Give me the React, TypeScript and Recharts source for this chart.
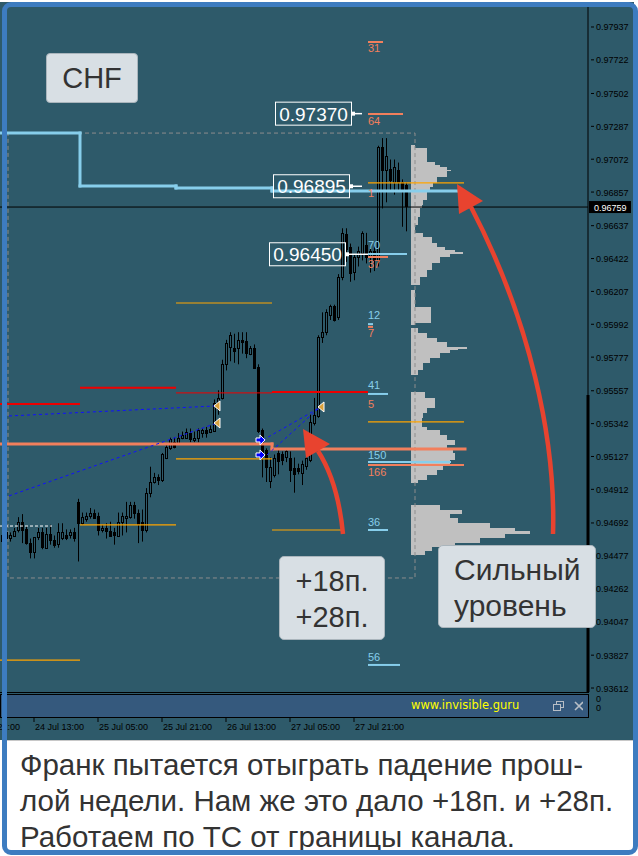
import React from "react";
import { ComposedChart, Bar, XAxis, YAxis, ReferenceLine, ReferenceArea, ReferenceDot } from "recharts";

const BG = "#2e5a6a";
const SKY = "#87ceeb";
const CORAL = "#f27f5c";
const ORANGE = "#ffa500";
const RED = "#ee0000";
const FONT = "'Liberation Sans', Arial, sans-serif";

// hourly candles, bar 0 = 24 Jul 05:00
const OPEN = [
  0.9461, 0.9463, 0.9459, 0.9461, 0.9465, 0.9470, 0.9465, 0.9456, 0.9450, 0.9460,
  0.9463, 0.9453, 0.9462, 0.9458, 0.9455, 0.9459, 0.9461, 0.9461, 0.9463, 0.9483,
  0.9469, 0.9472, 0.9474, 0.9476, 0.9474, 0.9465, 0.9466, 0.9464, 0.9463, 0.9461,
  0.9470, 0.9473, 0.9473, 0.9481, 0.9476, 0.9470, 0.9465, 0.9489, 0.9496, 0.9499,
  0.9497, 0.9512, 0.9518, 0.9522, 0.9522, 0.9525, 0.9525, 0.9528, 0.9524, 0.9525,
  0.9528, 0.9530, 0.9529, 0.9530, 0.9544, 0.9551, 0.9573, 0.9584, 0.9584, 0.9584,
  0.9589, 0.9588, 0.9580, 0.9584, 0.9571, 0.9530, 0.9517, 0.9497, 0.9501, 0.9515,
  0.9514, 0.9512, 0.9512, 0.9505, 0.9505, 0.9502, 0.9507, 0.9510, 0.9535, 0.9539,
  0.9591, 0.9594, 0.9605, 0.9611, 0.9604, 0.9630, 0.9658, 0.9650, 0.9633, 0.9643,
  0.9646, 0.9651, 0.9643, 0.9647, 0.9641, 0.9715, 0.9700, 0.9701, 0.9692, 0.9700,
  0.9692, 0.9690,
];
const HIGH = [
  0.9465, 0.9466, 0.9463, 0.9466, 0.9473, 0.9475, 0.9467, 0.9459, 0.9460, 0.9466,
  0.9466, 0.9466, 0.9468, 0.9461, 0.9469, 0.9469, 0.9465, 0.9465, 0.9466, 0.9485,
  0.9476, 0.9476, 0.9479, 0.9478, 0.9476, 0.9468, 0.9469, 0.9470, 0.9466, 0.9476,
  0.9476, 0.9483, 0.9483, 0.9483, 0.9478, 0.9478, 0.9492, 0.9506, 0.9502, 0.9501,
  0.9515, 0.9521, 0.9525, 0.9525, 0.9528, 0.9529, 0.9531, 0.9531, 0.9529, 0.9531,
  0.9531, 0.9532, 0.9533, 0.9550, 0.9556, 0.9576, 0.9589, 0.9594, 0.9593, 0.9594,
  0.9594, 0.9594, 0.9585, 0.9586, 0.9573, 0.9531, 0.9518, 0.9512, 0.9514, 0.9517,
  0.9516, 0.9517, 0.9516, 0.9512, 0.9508, 0.9510, 0.9514, 0.9540, 0.9551, 0.9592,
  0.9607, 0.9609, 0.9612, 0.9612, 0.9632, 0.9662, 0.9662, 0.9652, 0.9645, 0.9650,
  0.9660, 0.9659, 0.9650, 0.9650, 0.9716, 0.9721, 0.9721, 0.9707, 0.9707, 0.9705,
  0.9694, 0.9692,
];
const LOW = [
  0.9455, 0.9458, 0.9457, 0.9460, 0.9463, 0.9456, 0.9455, 0.9446, 0.9446, 0.9458,
  0.9452, 0.9453, 0.9455, 0.9453, 0.9453, 0.9458, 0.9458, 0.9459, 0.9457, 0.9444,
  0.9468, 0.9470, 0.9472, 0.9472, 0.9461, 0.9463, 0.9459, 0.9461, 0.9455, 0.9460,
  0.9461, 0.9463, 0.9472, 0.9472, 0.9456, 0.9457, 0.9463, 0.9486, 0.9495, 0.9494,
  0.9496, 0.9511, 0.9517, 0.9518, 0.9521, 0.9524, 0.9525, 0.9522, 0.9522, 0.9522,
  0.9525, 0.9525, 0.9528, 0.9529, 0.9540, 0.9550, 0.9569, 0.9575, 0.9574, 0.9573,
  0.9580, 0.9577, 0.9579, 0.9571, 0.9528, 0.9499, 0.9496, 0.9492, 0.9499, 0.9501,
  0.9507, 0.9509, 0.9496, 0.9489, 0.9501, 0.9494, 0.9504, 0.9509, 0.9533, 0.9538,
  0.9587, 0.9592, 0.9602, 0.9601, 0.9602, 0.9628, 0.9640, 0.9627, 0.9628, 0.9637,
  0.9641, 0.9639, 0.9633, 0.9634, 0.9637, 0.9675, 0.9679, 0.9687, 0.9684, 0.9687,
  0.9663, 0.9660,
];
const CLOSE = [
  0.9457, 0.9459, 0.9461, 0.9464, 0.9470, 0.9465, 0.9456, 0.9450, 0.9460, 0.9463,
  0.9453, 0.9462, 0.9458, 0.9455, 0.9463, 0.9463, 0.9459, 0.9463, 0.9459, 0.9469,
  0.9473, 0.9474, 0.9476, 0.9473, 0.9465, 0.9466, 0.9464, 0.9461, 0.9461, 0.9470,
  0.9474, 0.9474, 0.9481, 0.9476, 0.9469, 0.9465, 0.9489, 0.9496, 0.9499, 0.9497,
  0.9514, 0.9519, 0.9524, 0.9519, 0.9525, 0.9527, 0.9529, 0.9524, 0.9525, 0.9530,
  0.9530, 0.9528, 0.9531, 0.9548, 0.9551, 0.9573, 0.9587, 0.9592, 0.9582, 0.9589,
  0.9588, 0.9580, 0.9584, 0.9571, 0.9529, 0.9515, 0.9506, 0.9506, 0.9512, 0.9510,
  0.9510, 0.9516, 0.9504, 0.9501, 0.9503, 0.9508, 0.9512, 0.9535, 0.9540, 0.9591,
  0.9594, 0.9607, 0.9611, 0.9602, 0.9630, 0.9659, 0.9648, 0.9633, 0.9643, 0.9647,
  0.9659, 0.9643, 0.9647, 0.9641, 0.9715, 0.9700, 0.9709, 0.9694, 0.9702, 0.9692,
  0.9687, 0.9676,
];

const PRICE_TICKS = [
  0.97937, 0.97722, 0.97502, 0.97287, 0.97072, 0.96857, 0.96637, 0.96422, 0.96207, 0.95992, 0.95777,
  0.95557, 0.95342, 0.95127, 0.94912, 0.94692, 0.94477, 0.94262, 0.94047, 0.93827, 0.93612,
];
const TIME_TICK_BARS = [-8, 8, 24, 40, 56, 72, 88];
const TIME_TICK_LABELS = ["21 Jul 21:00", "24 Jul 13:00", "25 Jul 05:00", "25 Jul 21:00", "26 Jul 13:00", "27 Jul 05:00", "27 Jul 21:00"];
const LAST_PRICE = 0.96759;

// daily levels: [fromBar, toBar, price]
const ORANGE_LEVELS = [
  [-0.5, 19.5, 0.93795], [19.5, 43.5, 0.94679], [43.5, 67.5, 0.96131], [43.5, 67.5, 0.95111],
  [67.5, 85.5, 0.94646], [91.5, 115.5, 0.96917], [91.5, 115.5, 0.95353],
];
const RED_LEVELS = [[-0.5, 19.5, 0.95471], [19.5, 43.5, 0.95577], [67.5, 91.5, 0.95549]];
const RED_THIN_LEVELS = [[43.5, 67.5, 0.95543]];
const WHITE_DASH_LEVELS = [[-0.5, 12.5, 0.94672]];

const SKY_STEP_BARS = [-0.5, 19.5, 19.5, 43.5, 43.5, 67.5, 67.5, 113.75];
const SKY_STEP_PRICES = [0.97243, 0.97243, 0.96897, 0.96897, 0.96884, 0.96884, 0.96864, 0.96864];
const CORAL_STEP_BARS = [-0.5, 67.5, 67.5, 115.75];
const CORAL_STEP_PRICES = [0.95209, 0.95209, 0.95176, 0.95176];

// short tagged levels next to the profile
const SKY_SHORT = [
  [91.5, 101.25, 0.96452], [91.5, 92.75, 0.95993], [91.5, 96.5, 0.95536],
  [91.5, 112.25, 0.95091], [91.5, 96.5, 0.94646], [91.5, 99.5, 0.93763],
];
const CORAL_SHORT = [
  [91.5, 95.25, 0.97839], [91.5, 100.25, 0.97368], [91.5, 96.5, 0.96432],
  [91.5, 92.75, 0.95975], [91.5, 115.5, 0.95072],
];
const SKY_TAG_TEXT = ["70", "12", "41", "150", "36", "56"];
const SKY_TAG_PRICE = [0.96511, 0.96053, 0.95595, 0.95137, 0.94699, 0.93815];
const CORAL_TAG_TEXT = ["31", "64", "1", "37", "7", "5", "166"];
const CORAL_TAG_PRICE = [0.978, 0.97322, 0.96851, 0.96387, 0.95935, 0.95471, 0.95026];

const BOX_LABELS = ["0.97370", "0.96895", "0.96450"];
const BOX_PRICES = [0.9737, 0.96895, 0.9645];
const BOX_BARS = [87.5, 87, 86];
const BOX_LINK_END = [90, 90, 91.5];

// channel dashes: [fromBar, fromPrice, toBar, toPrice]
const BLUE_DASHES = [
  [1.75, 0.95392, 53.75, 0.95458], [1.75, 0.94869, 53.75, 0.95346],
  [65.25, 0.95235, 79.25, 0.95444], [66.25, 0.95137, 79.25, 0.95444],
];
const GOLD_MARK_BARS = [53.75, 53.75, 79.75];
const GOLD_MARK_PRICES = [0.95458, 0.95346, 0.95451];
const BLUE_MARK_BARS = [64.75, 64.75];
const BLUE_MARK_PRICES = [0.95235, 0.95137];

// volume profile rows
const PROFILE_HI = [
  0.97165, 0.97146, 0.97054, 0.97034, 0.97021, 0.97002, 0.96995, 0.96956, 0.96917, 0.9689,
  0.96858, 0.96805, 0.96773, 0.96753, 0.96694, 0.96642, 0.9659, 0.96563, 0.96524, 0.96498,
  0.96478, 0.96465, 0.96452, 0.96432, 0.96393, 0.96347, 0.96302, 0.96217, 0.96105, 0.96001,
  0.95968, 0.95935, 0.95903, 0.95876, 0.95844, 0.95831, 0.95824, 0.95804, 0.95772, 0.95739,
  0.95693, 0.95549, 0.9551, 0.95445, 0.95412, 0.95379, 0.9532, 0.95301, 0.95268, 0.95235,
  0.95202, 0.9517, 0.9515, 0.95104, 0.95072, 0.95039, 0.95006, 0.94973, 0.9481, 0.94777,
  0.94751, 0.94725, 0.94692, 0.94659, 0.9464, 0.9462, 0.94594, 0.94561, 0.94535, 0.94509,
];
const PROFILE_LO = [
  0.97146, 0.97054, 0.97034, 0.97021, 0.97002, 0.96995, 0.96956, 0.96917, 0.9689, 0.96858,
  0.96805, 0.96773, 0.96753, 0.96694, 0.96642, 0.9659, 0.96563, 0.96524, 0.96498, 0.96478,
  0.96465, 0.96452, 0.96432, 0.96393, 0.96347, 0.96302, 0.96249, 0.96105, 0.96001, 0.95988,
  0.95935, 0.95903, 0.95876, 0.95844, 0.95831, 0.95824, 0.95804, 0.95772, 0.95739, 0.95693,
  0.9566, 0.9551, 0.95445, 0.95412, 0.95379, 0.9532, 0.95301, 0.95268, 0.95235, 0.95202,
  0.9517, 0.9515, 0.95104, 0.95072, 0.95039, 0.95006, 0.94973, 0.94954, 0.94777, 0.94751,
  0.94725, 0.94692, 0.94659, 0.9464, 0.9462, 0.94594, 0.94561, 0.94535, 0.94509, 0.94483,
];
const PROFILE_VOL = [
  4, 16, 24, 29, 36, 40, 36, 26, 22, 19,
  16, 12, 11, 9, 7, 4, 12, 21, 26, 34,
  44, 52, 39, 29, 21, 16, 9, 4, 20, 4,
  7, 16, 26, 36, 56, 47, 39, 29, 19, 12,
  7, 14, 24, 16, 12, 11, 16, 29, 36, 44,
  36, 42, 44, 39, 32, 26, 16, 7, 29, 51,
  39, 47, 79, 104, 119, 94, 69, 44, 21, 14,
];
const PROFILE_BASE = 102.25;
const PROFILE_SCALE = 0.25;
const PROFILE_BOX = { x1: 1.5, x2: 103.25, y1: 0.94332, y2: 0.97243 };

const candles = OPEN.map((open, i) => ({
  i,
  open,
  high: HIGH[i],
  low: LOW[i],
  close: CLOSE[i],
  range: [LOW[i], HIGH[i]],
}));

function Candle(props: any) {
  const { x, y, width, height, payload } = props;
  if (!payload) return null;
  const c = Math.round(x + width / 2);
  const k = height / (payload.high - payload.low);
  const top = y + (payload.high - Math.max(payload.open, payload.close)) * k;
  const bot = y + (payload.high - Math.min(payload.open, payload.close)) * k;
  const bull = payload.close > payload.open;
  return (
    <g>
      <line x1={c + 0.5} x2={c + 0.5} y1={y} y2={y + height} stroke="#000" />
      <rect
        x={c - 0.5}
        y={Math.round(top) + 0.5}
        width={2}
        height={Math.max(1, Math.round(bot - top))}
        fill={bull ? BG : "#000"}
        stroke="#000"
      />
    </g>
  );
}

function PriceTick(props: any) {
  const { y, payload } = props;
  return (
    <g>
      <line x1={591} x2={594} y1={y} y2={y} stroke="#000" />
      <text x={596} y={y} dy={3.5} fontSize={9} fontFamily={FONT} fill="#000">
        {Number(payload.value).toFixed(5)}
      </text>
    </g>
  );
}

function TimeTick(props: any) {
  const { x, payload } = props;
  const idx = TIME_TICK_BARS.indexOf(payload.value);
  return (
    <g>
      <line x1={x} x2={x} y1={718} y2={722} stroke="#000" />
      <text x={x + 1} y={730} fontSize={9} fontFamily={FONT} fill="#000">
        {TIME_TICK_LABELS[idx]}
      </text>
    </g>
  );
}

const seg = (a: number, b: number, p: number) => [
  { x: a, y: p },
  { x: b, y: p },
];

export default function App() {
  const steps = (bars: number[], prices: number[]) =>
    bars.slice(1).map((b, k) => [
      { x: bars[k], y: prices[k] },
      { x: b, y: prices[k + 1] },
    ]);

  return (
    <div style={{ position: "absolute", left: 0, top: 0, width: 638, height: 856, background: "#fff", overflow: "hidden" }}>
      <div style={{ position: "absolute", left: 0, top: 2, width: 634, height: 738, background: BG }} />
      <div style={{ position: "absolute", left: 0, top: 0 }}>
        <ComposedChart width={632} height={740} data={candles} margin={{ top: 3, right: 0, bottom: 0, left: 0 }}>
          <XAxis
            dataKey="i"
            type="number"
            domain={[-0.5, 146.5]}
            allowDataOverflow
            ticks={TIME_TICK_BARS}
            interval={0}
            height={48}
            axisLine={false}
            tickLine={false}
            tick={<TimeTick />}
          />
          <YAxis
            orientation="right"
            type="number"
            domain={[0.93586, 0.98094]}
            allowDataOverflow
            ticks={PRICE_TICKS}
            interval={0}
            width={44}
            axisLine={{ stroke: "#000" }}
            tickLine={false}
            tick={<PriceTick />}
          />

          {PROFILE_VOL.map((v, k) => (
            <ReferenceArea
              key={`pf-${k}`}
              x1={PROFILE_BASE}
              x2={PROFILE_BASE + v * PROFILE_SCALE}
              y1={PROFILE_LO[k]}
              y2={PROFILE_HI[k]}
              fill="#c0c0c0"
              fillOpacity={1}
              stroke="none"
              shapeRendering="crispEdges"
            />
          ))}
          <ReferenceArea
            x1={PROFILE_BOX.x1}
            x2={PROFILE_BOX.x2}
            y1={PROFILE_BOX.y1}
            y2={PROFILE_BOX.y2}
            fill="none"
            stroke="#8c8c8c"
            strokeDasharray="4 3"
          />

          <ReferenceLine y={LAST_PRICE} stroke="#000" strokeWidth={1} />
          <ReferenceLine segment={[{ x: 146.5, y: 0.9553 }, { x: 146.5, y: 0.93586 }]} stroke="#000" strokeWidth={3} />

          <Bar dataKey="range" barSize={3} shape={<Candle />} isAnimationActive={false} />

          {ORANGE_LEVELS.map(([a, b, p], k) => (
            <ReferenceLine key={`or-${k}`} segment={seg(a, b, p)} stroke={ORANGE} strokeWidth={1.2} />
          ))}
          {RED_LEVELS.map(([a, b, p], k) => (
            <ReferenceLine key={`rd-${k}`} segment={seg(a, b, p)} stroke={RED} strokeWidth={2} />
          ))}
          {RED_THIN_LEVELS.map(([a, b, p], k) => (
            <ReferenceLine key={`rt-${k}`} segment={seg(a, b, p)} stroke={RED} strokeWidth={1} />
          ))}
          {WHITE_DASH_LEVELS.map(([a, b, p], k) => (
            <ReferenceLine key={`wd-${k}`} segment={seg(a, b, p)} stroke="#fff" strokeDasharray="3 2" />
          ))}
          {steps(SKY_STEP_BARS, SKY_STEP_PRICES).map((s, k) => (
            <ReferenceLine key={`ss-${k}`} segment={s} stroke={SKY} strokeWidth={3} strokeLinecap="square" />
          ))}
          {steps(CORAL_STEP_BARS, CORAL_STEP_PRICES).map((s, k) => (
            <ReferenceLine key={`cs-${k}`} segment={s} stroke={CORAL} strokeWidth={3} strokeLinecap="square" />
          ))}
          {SKY_SHORT.map(([a, b, p], k) => (
            <ReferenceLine key={`sk-${k}`} segment={seg(a, b, p)} stroke={SKY} strokeWidth={2} />
          ))}
          {CORAL_SHORT.map(([a, b, p], k) => (
            <ReferenceLine key={`co-${k}`} segment={seg(a, b, p)} stroke={CORAL} strokeWidth={2} />
          ))}
          {BLUE_DASHES.map(([a, pa, b, pb], k) => (
            <ReferenceLine
              key={`bd-${k}`}
              segment={[{ x: a, y: pa }, { x: b, y: pb }]}
              stroke="#1010ff"
              strokeDasharray="3 3"
            />
          ))}
          {BOX_BARS.map((b, k) => (
            <ReferenceLine key={`lk-${k}`} segment={seg(b, BOX_LINK_END[k], BOX_PRICES[k])} stroke="#fff" strokeWidth={1.5} />
          ))}

          {SKY_TAG_TEXT.map((t, k) => (
            <ReferenceDot
              key={`st-${k}`}
              x={91.5}
              y={SKY_TAG_PRICE[k]}
              r={0}
              shape={(p: any) => (
                <text x={p.cx} y={p.cy} dy={4} fontSize={11} fontFamily={FONT} fill={SKY}>
                  {t}
                </text>
              )}
            />
          ))}
          {CORAL_TAG_TEXT.map((t, k) => (
            <ReferenceDot
              key={`ct-${k}`}
              x={91.5}
              y={CORAL_TAG_PRICE[k]}
              r={0}
              shape={(p: any) => (
                <text x={p.cx} y={p.cy} dy={4} fontSize={11} fontFamily={FONT} fill={CORAL}>
                  {t}
                </text>
              )}
            />
          ))}
          {BOX_LABELS.map((t, k) => (
            <ReferenceDot
              key={`bx-${k}`}
              x={BOX_BARS[k]}
              y={BOX_PRICES[k]}
              r={0}
              shape={(p: any) => (
                <g>
                  <rect x={p.cx - 76.5} y={p.cy - 11.5} width={76} height={23} fill="none" stroke="#fff" strokeWidth={1} />
                  <rect x={p.cx - 1} y={p.cy - 2} width={4} height={4} fill="#fff" />
                  <text x={p.cx - 38.5} y={p.cy} dy={7} textAnchor="middle" fontSize={19} fontFamily={FONT} fill="#fff">
                    {t}
                  </text>
                </g>
              )}
            />
          ))}
          {GOLD_MARK_BARS.map((b, k) => (
            <ReferenceDot
              key={`gm-${k}`}
              x={b}
              y={GOLD_MARK_PRICES[k]}
              r={0}
              shape={(p: any) => (
                <polygon
                  points={`${p.cx - 3},${p.cy} ${p.cx + 3},${p.cy - 5} ${p.cx + 3},${p.cy + 5}`}
                  fill="#d9a23c"
                  stroke="#fff"
                  strokeWidth={1}
                />
              )}
            />
          ))}
          {BLUE_MARK_BARS.map((b, k) => (
            <ReferenceDot
              key={`bm-${k}`}
              x={b}
              y={BLUE_MARK_PRICES[k]}
              r={0}
              shape={(p: any) => (
                <path
                  d={`M${p.cx - 5},${p.cy - 2} h4 v-3 l5,5 l-5,5 v-3 h-4 z`}
                  fill="#0000ff"
                  stroke="#fff"
                  strokeWidth={1}
                />
              )}
            />
          ))}
          <ReferenceDot
            x={146.5}
            y={LAST_PRICE}
            r={0}
            shape={(p: any) => (
              <g>
                <rect x={p.cx + 1} y={p.cy - 6} width={42} height={12} fill="#000" />
                <text x={p.cx + 6} y={p.cy} dy={3.5} fontSize={9} fontFamily={FONT} fill="#fff">
                  {LAST_PRICE.toFixed(5)}
                </text>
              </g>
            )}
          />
        </ComposedChart>
      </div>

      {/* indicator sub-window */}
      <div style={{ position: "absolute", left: 0, top: 692, width: 589, height: 1, background: "#000" }} />
      <div
        style={{
          position: "absolute",
          left: 0,
          top: 694,
          width: 589,
          height: 24,
          boxSizing: "border-box",
          background: "#35597d",
          border: "1px solid #000",
        }}
      >
        <div style={{ position: "absolute", left: 410, top: 3, fontFamily: "'DejaVu Sans', sans-serif", fontSize: 11.5, color: "#ffff00" }}>
          www.invisible.guru
        </div>
        <svg style={{ position: "absolute", left: 552, top: 6 }} width={30} height={12}>
          <rect x={3.5} y={0.5} width={7} height={6} fill="none" stroke="#b8bec6" />
          <rect x={0.5} y={3.5} width={7} height={6} fill="#35597d" stroke="#b8bec6" />
          <path d="M22,1 L30,9 M30,1 L22,9" stroke="#b8bec6" strokeWidth={1.6} />
        </svg>
      </div>
      <div style={{ position: "absolute", left: 596, top: 695, fontFamily: FONT, fontSize: 9, lineHeight: "9px", color: "#000" }}>
        0<br />0
      </div>

      {/* annotations */}
      <div
        style={{
          position: "absolute",
          left: 46,
          top: 53,
          width: 92,
          height: 50,
          boxSizing: "border-box",
          background: "#d8dfe4",
          border: "1px solid #aab5bc",
          borderRadius: 4,
          fontFamily: FONT,
          fontSize: 29,
          lineHeight: "48px",
          textAlign: "center",
          color: "#333",
        }}
      >
        CHF
      </div>
      <svg style={{ position: "absolute", left: 0, top: 0 }} width={638} height={740}>
        <path d="M343,534 Q338,482 318,451" fill="none" stroke="#e8432f" strokeWidth={4.5} />
        <polygon points="303,429 330,444 306,458" fill="#e8432f" />
        <path d="M553,534 C556,440 530,320 471,207" fill="none" stroke="#e8432f" strokeWidth={4.5} />
        <polygon points="457,184 483,201 459,214" fill="#e8432f" />
      </svg>
      <div
        style={{
          position: "absolute",
          left: 279,
          top: 556,
          width: 106,
          height: 84,
          boxSizing: "border-box",
          paddingTop: 6,
          background: "#d8dfe4",
          border: "1px solid #aab5bc",
          borderRadius: 5,
          fontFamily: FONT,
          fontSize: 29,
          lineHeight: "36px",
          textAlign: "center",
          color: "#333",
        }}
      >
        +18п.
        <br />
        +28п.
      </div>
      <div
        style={{
          position: "absolute",
          left: 438,
          top: 545,
          width: 158,
          height: 83,
          boxSizing: "border-box",
          paddingTop: 6,
          paddingLeft: 15,
          background: "#d8dfe4",
          border: "1px solid #aab5bc",
          borderRadius: 5,
          fontFamily: FONT,
          fontSize: 30,
          lineHeight: "36px",
          color: "#333",
        }}
      >
        Сильный
        <br />
        уровень
      </div>

      {/* caption */}
      <div
        style={{
          position: "absolute",
          left: 7,
          top: 740,
          width: 626,
          height: 112,
          background: "#fff",
          borderTop: "1px solid #c8c8c8",
          fontFamily: FONT,
          fontSize: 29.5,
          color: "#333",
          whiteSpace: "nowrap",
        }}
      >
        <div style={{ position: "absolute", left: 13, top: 6, lineHeight: "36px" }}>Франк пытается отыграть падение прош-</div>
        <div style={{ position: "absolute", left: 13, top: 42, lineHeight: "36px" }}>лой недели. Нам же это дало +18п. и +28п.</div>
        <div style={{ position: "absolute", left: 13, top: 78, lineHeight: "36px" }}>Работаем по ТС от границы канала.</div>
      </div>

      {/* window frame */}
      <div
        style={{
          position: "absolute",
          left: 2,
          top: 2,
          width: 636,
          height: 853,
          boxSizing: "border-box",
          border: "5px solid #3d7cc0",
          borderRadius: 9,
          pointerEvents: "none",
        }}
      />
    </div>
  );
}
